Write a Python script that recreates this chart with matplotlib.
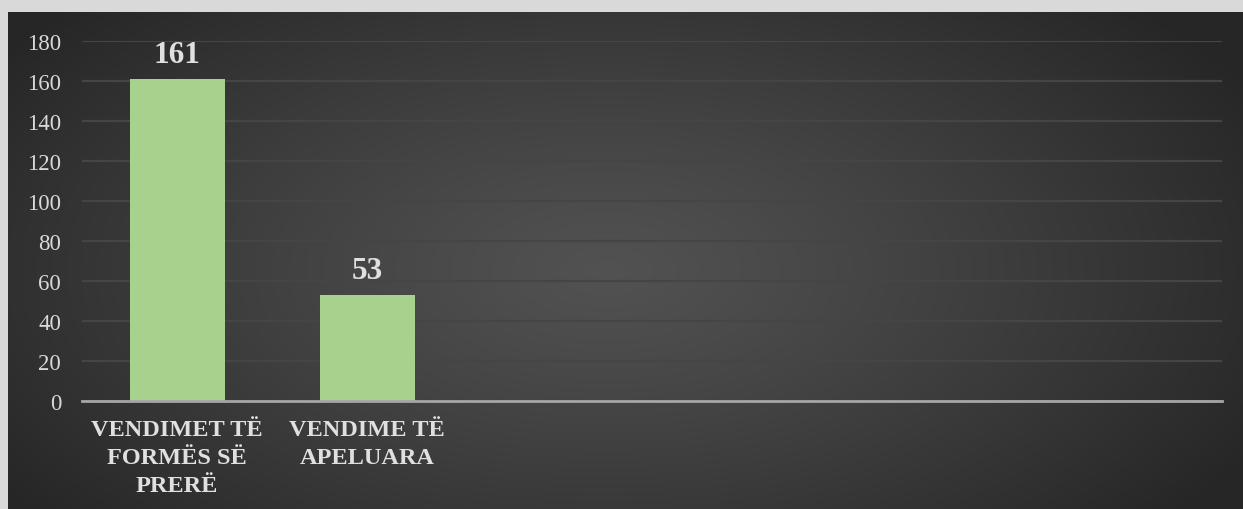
import numpy as np
import matplotlib
matplotlib.use('Agg')
import matplotlib.pyplot as plt
import matplotlib.patheffects as pe

categories = ['VENDIMET TË\nFORMËS SË\nPRERË', 'VENDIME TË\nAPELUARA']
values = [161, 53]
yticks = [0, 20, 40, 60, 80, 100, 120, 140, 160, 180]
n_slots = 6

plt.rcParams['font.family'] = ['Liberation Serif', 'DejaVu Serif']

fig = plt.figure(figsize=(12.43, 5.10), dpi=100)
fig.patch.set_facecolor('#d9d9d9')

# dark panel with radial gradient
W, H = 1243, 510
px0, py0 = 8, 13
bg = fig.add_axes([px0 / W, 0, 1 - px0 / W, 1 - py0 / H])
yy, xx = np.mgrid[0:500, 0:1240]
cx, cy = 600, 260
d = np.sqrt(((xx - cx) / 1240) ** 2 + ((yy - cy) / 640) ** 2)
d = np.clip(d / 0.6, 0, 1)
shade = 0.32 - 0.17 * d ** 1.2
img = np.dstack([shade, shade, shade])
bg.imshow(img, aspect='auto', extent=[0, 1, 0, 1], origin='upper')
bg.set_axis_off()

ax = fig.add_axes([82 / W, 108 / H, (1222 - 82) / W, 360 / H])
ax.set_facecolor('none')
ax.set_xlim(-0.5, n_slots - 0.5)
ax.set_ylim(0, 180)

x = np.arange(len(categories))
bars = ax.bar(x, values, width=0.5, color='#a9d18e', zorder=3)
for b in bars:
    b.set_path_effects([pe.SimplePatchShadow(offset=(0, 0), shadow_rgbFace='#1a1a1a', alpha=0.5),
                        pe.Normal()])

for xi, v in zip(x, values):
    ax.text(xi, v + 5, str(v), ha='center', va='bottom', fontsize=22.5,
            fontweight='bold', color='#e0e0e0')

ax.set_yticks(yticks)
ax.set_xticks(x)
ax.set_xticklabels(categories, fontsize=17.5, fontweight='bold', color='#e0e0e0',
                   linespacing=1.45)
ax.tick_params(axis='x', length=0, pad=13)
ax.tick_params(axis='y', length=0, pad=15, labelsize=16.5, labelcolor='#d9d9d9')

ax.grid(axis='y', color='#454545', linewidth=1.6, zorder=0)
ax.set_axisbelow(True)
for s in ['top', 'right', 'left']:
    ax.spines[s].set_visible(False)
ax.spines['bottom'].set_color('#a6a6a6')
ax.spines['bottom'].set_linewidth(2)
ax.spines['bottom'].set_zorder(4)

fig.savefig('out.png', dpi=100, facecolor=fig.get_facecolor())
